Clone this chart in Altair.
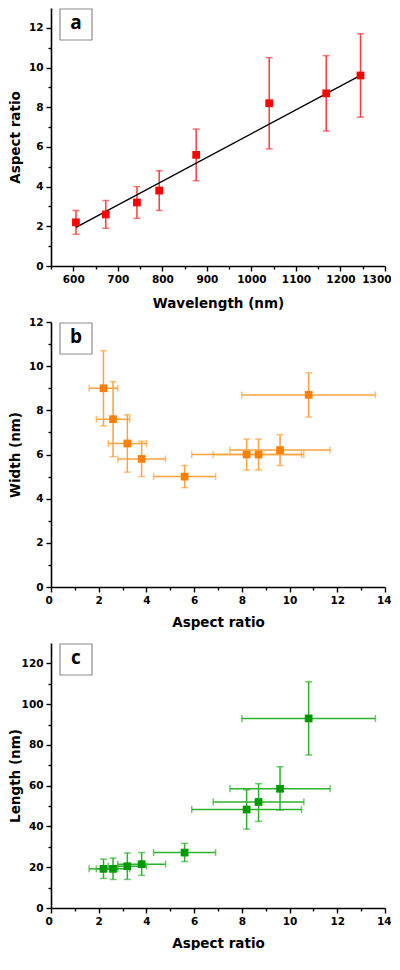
import altair as alt
import pandas as pd

# ---- Panel a data ----
wavelength = [606, 673, 743, 793, 876, 1040, 1168, 1245]
ar_a = [2.2, 2.6, 3.2, 3.8, 5.6, 8.2, 8.7, 9.6]
ar_a_lo = [1.6, 1.9, 2.4, 2.8, 4.3, 5.9, 6.8, 7.5]
ar_a_hi = [2.8, 3.3, 4.0, 4.8, 6.9, 10.5, 10.6, 11.7]
fit_x = [606, 1245]
fit_y = [1.95, 9.6]

# ---- Panels b & c data (aspect ratio on x) ----
ar = [2.2, 2.6, 3.2, 3.8, 5.6, 8.2, 8.7, 9.6, 10.8]
ar_lo = [1.6, 1.9, 2.4, 2.8, 4.3, 5.9, 6.8, 7.5, 8.0]
ar_hi = [2.8, 3.3, 4.0, 4.8, 6.9, 10.5, 10.6, 11.7, 13.6]
width_nm = [9.0, 7.6, 6.5, 5.8, 5.0, 6.0, 6.0, 6.2, 8.7]
width_lo = [7.3, 5.9, 5.2, 5.0, 4.5, 5.3, 5.3, 5.5, 7.7]
width_hi = [10.7, 9.3, 7.8, 6.6, 5.5, 6.7, 6.7, 6.9, 9.7]
length_nm = [19.2, 19.2, 20.5, 21.5, 27.2, 48.3, 52.0, 58.5, 93.0]
length_lo = [14.5, 14.0, 14.0, 16.0, 22.8, 38.7, 42.5, 48.0, 75.0]
length_hi = [24.0, 24.5, 27.0, 27.2, 31.7, 58.0, 61.0, 69.3, 111.0]

panel_labels = ["a", "b", "c"]

FONT = "DejaVu Sans"
W = 334


def make_axis(title, values, major, maj_size=5, min_size=3, title_pad=8, title_x=None, flush=False):
    kw = dict(
        title=title,
        values=values,
        tickCount=200,
        format="d",
        labelExpr=f"datum.value % {major} === 0 ? datum.label : ''",
        tickSize={"condition": {"test": f"datum.value % {major} === 0", "value": maj_size}, "value": min_size},
        titlePadding=title_pad,
        labelOverlap=False,
        labelFlush=flush,
    )
    if flush:
        kw["labelFlushOffset"] = 6
    if title_x is not None:
        kw["titleX"] = title_x
        kw["titleBaseline"] = "middle"
    return alt.Axis(**kw)


def label_box(letter):
    d = pd.DataFrame({"lab": [letter]})
    box = alt.Chart(d).mark_rect(fill="white", stroke="#8c8c8c", strokeWidth=1.2).encode(
        x=alt.value(9), x2=alt.value(41), y=alt.value(1), y2=alt.value(32)
    )
    txt = alt.Chart(d).mark_text(font="Open Sans", fontWeight="bold", fontSize=19, color="black",
                                 baseline="middle", align="center").encode(
        x=alt.value(25), y=alt.value(15), text="lab:N"
    )
    return box + txt


# ---------------- Panel a ----------------
df_a = pd.DataFrame({"wl": wavelength, "ar": ar_a, "lo": ar_a_lo, "hi": ar_a_hi})
df_fit = pd.DataFrame({"wl": fit_x, "ar": fit_y})

xs_a = alt.Scale(domain=[550, 1300], nice=False, zero=False)
ys_a = alt.Scale(domain=[0, 13], nice=False)
xa_axis = make_axis("Wavelength (nm)", list(range(550, 1301, 50)), 100, title_pad=12, flush=True)
ya_axis = make_axis("Aspect ratio", list(range(0, 13)), 2, title_x=-36)

ECA = "#ff3b3b"
base_a = alt.Chart(df_a)
eb_a = base_a.mark_rule(color=ECA, strokeWidth=1.5).encode(
    x=alt.X("wl:Q", scale=xs_a), y=alt.Y("lo:Q", scale=ys_a), y2="hi:Q")
cap_lo_a = base_a.mark_tick(color=ECA, orient="horizontal", size=7, thickness=1.5).encode(
    x=alt.X("wl:Q", scale=xs_a), y=alt.Y("lo:Q", scale=ys_a))
cap_hi_a = base_a.mark_tick(color=ECA, orient="horizontal", size=7, thickness=1.5).encode(
    x=alt.X("wl:Q", scale=xs_a), y=alt.Y("hi:Q", scale=ys_a))
fit_a = alt.Chart(df_fit).mark_line(color="black", strokeWidth=1.4).encode(
    x=alt.X("wl:Q", scale=xs_a), y=alt.Y("ar:Q", scale=ys_a))
pts_a = base_a.mark_square(color="#ff0000", size=60, opacity=1).encode(
    x=alt.X("wl:Q", scale=xs_a, axis=xa_axis), y=alt.Y("ar:Q", scale=ys_a, axis=ya_axis))

panel_a = alt.layer(eb_a, cap_lo_a, cap_hi_a, fit_a, pts_a, label_box("a")).properties(width=W, height=258)


# ---------------- Panels b & c ----------------
def xy_panel(yvals, ylo, yhi, ytitle, ydom, yvalues, ymajor, mcolor, ecolor, letter, height, xtitle_pad):
    df = pd.DataFrame({"ar": ar, "xlo": ar_lo, "xhi": ar_hi, "v": yvals, "ylo": ylo, "yhi": yhi})
    xs = alt.Scale(domain=[0, 14], nice=False)
    ys = alt.Scale(domain=ydom, nice=False)
    x = alt.X("ar:Q", scale=xs, axis=make_axis("Aspect ratio", list(range(0, 15)), 2,
                                               title_pad=xtitle_pad, flush=True))
    y = alt.Y("v:Q", scale=ys, axis=make_axis(ytitle, yvalues, ymajor, title_x=-36))
    b = alt.Chart(df)

    def X(f):
        return alt.X(f, scale=xs)

    def Y(f):
        return alt.Y(f, scale=ys)

    vbar = b.mark_rule(color=ecolor, strokeWidth=1.5).encode(x=X("ar:Q"), y=Y("ylo:Q"), y2="yhi:Q")
    hbar = b.mark_rule(color=ecolor, strokeWidth=1.5).encode(x=X("xlo:Q"), x2="xhi:Q", y=Y("v:Q"))
    c1 = b.mark_tick(color=ecolor, orient="horizontal", size=7, thickness=1.5).encode(x=X("ar:Q"), y=Y("ylo:Q"))
    c2 = b.mark_tick(color=ecolor, orient="horizontal", size=7, thickness=1.5).encode(x=X("ar:Q"), y=Y("yhi:Q"))
    c3 = b.mark_tick(color=ecolor, orient="vertical", size=7, thickness=1.5).encode(x=X("xlo:Q"), y=Y("v:Q"))
    c4 = b.mark_tick(color=ecolor, orient="vertical", size=7, thickness=1.5).encode(x=X("xhi:Q"), y=Y("v:Q"))
    pts = b.mark_square(color=mcolor, size=60, opacity=1).encode(x=x, y=y)
    return alt.layer(vbar, hbar, c1, c2, c3, c4, pts, label_box(letter)).properties(width=W, height=height)


panel_b = xy_panel(width_nm, width_lo, width_hi, "Width (nm)", [0, 12], list(range(0, 13)), 2,
                   "#ff8000", "#ffa23f", "b", 265, 10)
panel_c = xy_panel(length_nm, length_lo, length_hi, "Length (nm)", [0, 130], list(range(0, 130, 10)), 20,
                   "#009a00", "#2eb22e", "c", 265, 10)

chart = alt.vconcat(panel_a, panel_b, panel_c, spacing=56, bounds="flush").properties(
    padding=0
).configure_view(stroke=None).configure_axis(
    grid=False,
    domainColor="black",
    domainWidth=1.6,
    tickColor="black",
    tickWidth=1.4,
    labelFont=FONT,
    labelFontWeight="bold",
    labelFontSize=10.5,
    labelColor="black",
    labelPadding=3,
    titleFont=FONT,
    titleFontWeight="bold",
    titleFontSize=13.5,
    titleColor="black",
)

chart.save("out.html", embed_options={"renderer": "svg", "actions": False})
